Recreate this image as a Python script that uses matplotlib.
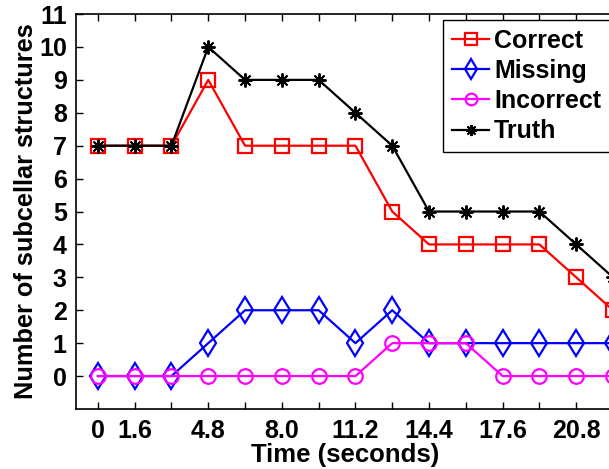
import matplotlib
matplotlib.use("Agg")
import matplotlib.pyplot as plt

# Time points (seconds) and structure counts
time_s = [0, 1.6, 3.2, 4.8, 6.4, 8.0, 9.6, 11.2, 12.8, 14.4, 16.0, 17.6, 19.2, 20.8, 22.4]
correct = [7, 7, 7, 9, 7, 7, 7, 7, 5, 4, 4, 4, 4, 3, 2]
missing = [0, 0, 0, 1, 2, 2, 2, 1, 2, 1, 1, 1, 1, 1, 1]
incorrect = [0, 0, 0, 0, 0, 0, 0, 0, 1, 1, 1, 0, 0, 0, 0]
truth = [7, 7, 7, 10, 9, 9, 9, 8, 7, 5, 5, 5, 5, 4, 3]

xtick_labels = ["0", "1.6", "", "4.8", "", "8.0", "", "11.2", "", "14.4", "",
                "17.6", "", "20.8", ""]
yticks = list(range(0, 12))

plt.rcParams["font.family"] = ["Liberation Sans", "DejaVu Sans"]
plt.rcParams["font.weight"] = "bold"

fig = plt.figure(figsize=(6.09, 4.69), dpi=100)
ax = fig.add_axes([0.1256, 0.128, 0.881, 0.842])

lw = 1.6
ax.plot(time_s, correct, color="red", lw=lw, marker="s", ms=10,
        mfc="none", mec="red", mew=1.6, label="Correct")
ax.plot(time_s, missing, color="blue", lw=lw, marker="d", ms=13,
        mfc="none", mec="blue", mew=1.6, label="Missing")
ax.plot(time_s, incorrect, color="magenta", lw=lw, marker="o", ms=10.5,
        mfc="none", mec="magenta", mew=1.6, label="Incorrect")
ax.plot(time_s, truth, color="black", lw=lw, marker=(8, 2, 0), ms=10,
        mec="black", mew=1.4, label="Truth")

ax.set_xlim(-0.93, 22.4)
ax.set_ylim(-1, 11)
ax.set_xticks(time_s)
ax.set_xticklabels(xtick_labels)
ax.set_yticks(yticks)
ax.tick_params(direction="in", length=5, width=1, labelsize=18, top=True,
               pad=7)
for lab in ax.get_xticklabels() + ax.get_yticklabels():
    lab.set_fontweight("bold")
for s in ax.spines.values():
    s.set_linewidth(1.2)

ax.set_xlabel("Time (seconds)", fontsize=18.5, fontweight="bold", labelpad=0)
ax.set_ylabel("Number of subcellar structures", fontsize=18.3,
              fontweight="bold", labelpad=1)

leg = ax.legend(loc="upper left", bbox_to_anchor=(443 / 609, 1 - 20 / 469),
                bbox_transform=fig.transFigure, borderaxespad=0,
                prop={"weight": "bold", "size": 18},
                handlelength=1.5, handletextpad=0.2, labelspacing=0.25,
                borderpad=0.35, fancybox=False, framealpha=1, markerscale=0.8)
leg.get_frame().set_edgecolor("black")
leg.get_frame().set_linewidth(1.0)

fig.savefig("out.png", dpi=100)
